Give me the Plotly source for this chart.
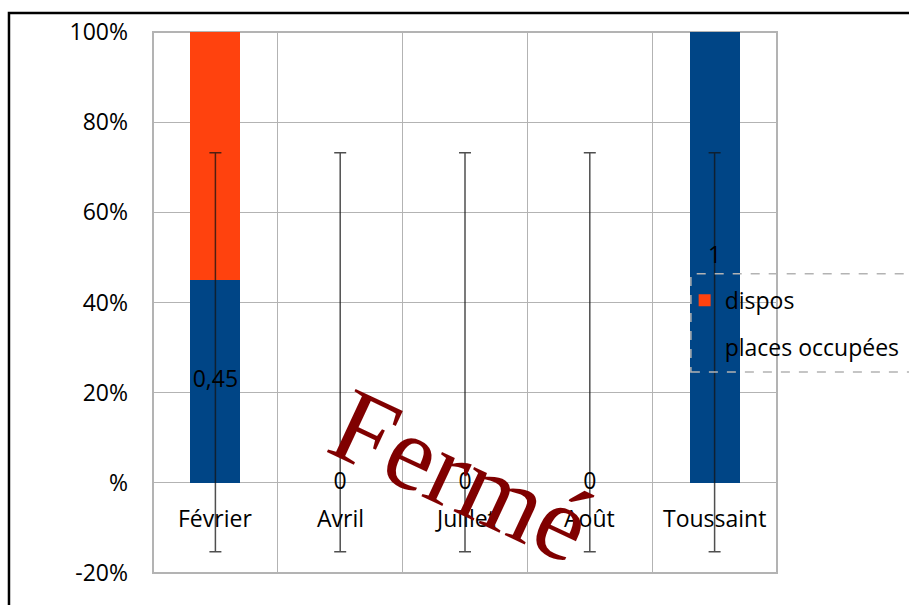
import plotly.graph_objects as go

categories = ["Février", "Avril", "Juillet", "Août", "Toussaint"]
places_occupees = [0.45, 0, 0, 0, 1]
dispos = [0.55, 0, 0, 0, 0]
err_base = [0, 0, 0, 0, 0]
err_plus = [0.732, 0.732, 0.732, 0.732, 0.732]
err_minus = [0.153, 0.153, 0.153, 0.153, 0.153]
ytick_vals = [-0.2, 0, 0.2, 0.4, 0.6, 0.8, 1.0]
ytick_text = ["-20%", "%", "20%", "40%", "60%", "80%", "100%"]
label_text = ["0,45", "0", "0", "0", "1"]

FONT = "Open Sans"
FS = 23
BLUE = "#004586"
ORANGE = "#ff420e"
GRID = "#b3b3b3"

fig = go.Figure()
fig.add_trace(go.Bar(x=categories, y=places_occupees, name="places occupées",
                     marker=dict(color=BLUE, line=dict(width=0)),
                     legendgroup="a", legendrank=2, width=0.4))
fig.add_trace(go.Bar(x=categories, y=dispos, name="dispos",
                     marker=dict(color=ORANGE, line=dict(width=0)),
                     legendgroup="b", legendrank=1, width=0.4))
fig.add_trace(go.Scatter(x=categories, y=err_base, mode="markers",
                         marker=dict(size=1, color="rgba(0,0,0,0)"),
                         error_y=dict(type="data", symmetric=False, array=err_plus,
                                      arrayminus=err_minus, color="rgba(20,20,20,0.75)",
                                      thickness=1.5, width=6),
                         showlegend=False, hoverinfo="skip"))
fig.add_trace(go.Scatter(x=categories, y=[v / 2 for v in places_occupees], mode="text",
                         text=label_text, textposition="middle center",
                         textfont=dict(family=FONT, size=FS, color="black"),
                         showlegend=False, hoverinfo="skip"))

for c in categories:
    fig.add_annotation(x=c, y=0, xref="x", yref="y", text=c, showarrow=False,
                       yanchor="middle", yshift=-35,
                       font=dict(family=FONT, size=FS, color="black"))

fig.add_annotation(x=0.494, y=-0.028, xref="paper", yref="paper", text="Fermé",
                   showarrow=False, textangle=25,
                   font=dict(family="Liberation Serif", size=106, color="#800000"))

# plot area border
fig.add_shape(type="rect", xref="paper", yref="paper", x0=0, x1=1, y0=0, y1=1,
              line=dict(color=GRID, width=2), layer="below")
# outer chart frame
fig.add_shape(type="rect", xref="paper", yref="paper", x0=-0.2308, x1=1.5, y0=-0.2,
              y1=1.0351, line=dict(color="black", width=2.5))
# legend dashed frame
fig.add_shape(type="rect", xref="paper", yref="paper", x0=0.862, x1=1.3, y0=0.3715,
              y1=0.553, line=dict(color=GRID, width=1.5, dash="dash"))

fig.update_layout(
    width=909, height=605,
    margin=dict(l=153, r=132, t=32, b=32, autoexpand=False),
    barmode="stack",
    bargap=0.6,
    plot_bgcolor="white", paper_bgcolor="white",
    font=dict(family=FONT, size=FS, color="black"),
    showlegend=True,
    legend=dict(x=0.852, y=0.544, xanchor="left", yanchor="top",
                traceorder="grouped", tracegroupgap=14,
                bgcolor="rgba(0,0,0,0)", borderwidth=0,
                font=dict(family=FONT, size=FS, color="black")),
    xaxis=dict(type="category", tickson="boundaries", showgrid=True, gridcolor=GRID,
               gridwidth=1, showticklabels=False, ticks="", zeroline=False,
               showline=False, range=[-0.5, 4.5], automargin=False),
    yaxis=dict(range=[-0.2, 1.0], tickvals=ytick_vals, ticktext=ytick_text,
               showgrid=True, gridcolor=GRID, gridwidth=1, zeroline=False,
               showline=False, ticks="", ticklabelstandoff=24, automargin=False,
               tickfont=dict(family=FONT, size=FS, color="black")),
)

fig.write_html("out.html", config={"displayModeBar": False},
               post_script="document.body.style.margin='0';document.body.style.overflow='hidden';")
